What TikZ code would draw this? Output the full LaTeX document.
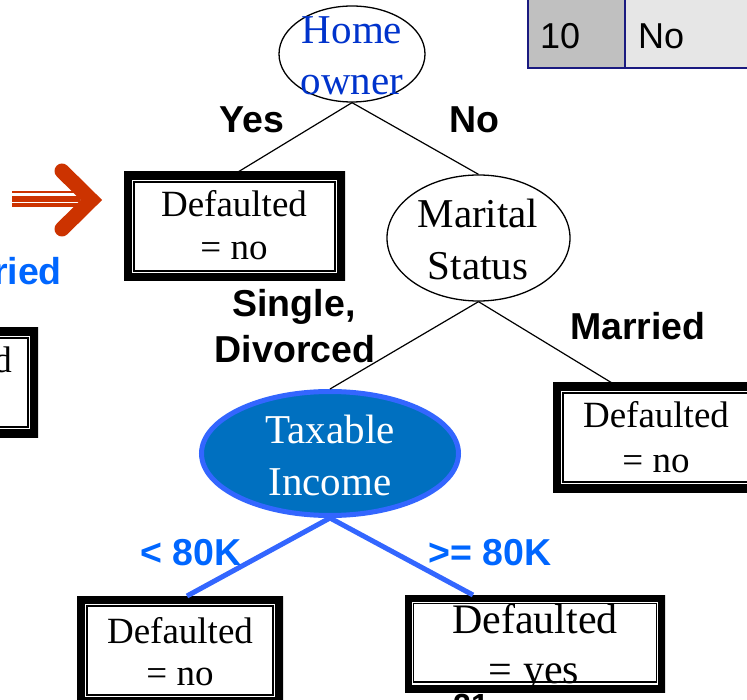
\documentclass[tikz,border=0pt]{standalone}
\usepackage{fontspec}
\setmainfont{Liberation Serif}
\newfontfamily\arialf{Liberation Sans}
\usetikzlibrary{shapes.geometric}

\definecolor{arroworange}{RGB}{204,51,0}
\definecolor{labelblue}{RGB}{0,102,255}
\definecolor{linkblue}{RGB}{51,102,255}
\definecolor{taxfill}{RGB}{0,112,192}
\definecolor{homeblue}{RGB}{0,51,204}
\definecolor{tablenavy}{RGB}{26,26,128}
\definecolor{cellgray}{RGB}{192,192,192}
\definecolor{celllight}{RGB}{230,230,230}

\newcommand\leaffont{\fontsize{37pt}{44pt}\selectfont}
\newcommand\bigleaffont{\fontsize{42pt}{50pt}\selectfont}
\newcommand\splitfont{\fontsize{41pt}{52pt}\selectfont}
\newcommand\edgefont{\arialf\bfseries\fontsize{37.5pt}{44pt}\selectfont}
\newcommand\cellfont{\arialf\fontsize{36pt}{42pt}\selectfont}

\tikzset{
  leafbox/.style={rectangle, inner sep=0pt, outer sep=0pt, fill=white,
    minimum width=221, minimum height=109,
    path picture={
      \draw[line width=16pt]
        (path picture bounding box.south west) rectangle
        (path picture bounding box.north east);
      \draw[line width=1.4pt]
        ([shift={(10pt,10pt)}]path picture bounding box.south west) rectangle
        ([shift={(-10pt,-10pt)}]path picture bounding box.north east);
    }},
  splitnode/.style={ellipse, draw, line width=1.3pt, inner sep=0pt, fill=white},
  txt/.style={inner sep=0pt, anchor=base},
  leaftext/.style={txt, font=\leaffont},
  splittext/.style={txt, font=\splitfont},
  edgelabel/.style={txt, font=\edgefont},
  tree/.style={line width=1.2pt},
  branch/.style={line width=5pt, linkblue},
}

\begin{document}
\begin{tikzpicture}[x=1pt,y=-1pt]
\useasboundingbox (0,0) rectangle (747,700);
\clip (0,0) rectangle (747,700);

% table row in the corner
\fill[cellgray] (528,-5) rectangle (625,68);
\fill[celllight] (625,-5) rectangle (752,68);
\draw[tablenavy, line width=1.5pt] (528,-5) -- (528,68) (625,-5) -- (625,68) (527,68) -- (752,68);
\node[txt, anchor=base west, font=\cellfont] (tid) at (540,49) {10};
\node[txt, anchor=base west, font=\cellfont] (tval) at (638,49) {No};

% orange pointer arrow
\fill[arroworange] (12,190.7) rectangle (80,193.3);
\fill[arroworange] (12,196) rectangle (80,201.7);
\fill[arroworange] (12,203.3) rectangle (80,206.7);
\draw[arroworange, line width=15pt, line cap=round, line join=miter] (62,171) -- (91.4,200) -- (62,229);

% partially visible label and leaf on the left
\node[edgelabel, anchor=base east, text=labelblue] (lmar) at (62,285) {Married};
\node[leafbox] (leafL) at (-72.5,382.5) {};
\node[leaftext, anchor=base east] (leafLa) at (12,373) {Defaulted};

% split nodes
\node[splitnode, minimum width=146, minimum height=96] (home) at (352,54) {};
\node[splitnode, minimum width=183, minimum height=126] (marital) at (478.5,238) {};
\node[ellipse, draw=linkblue, fill=taxfill, line width=5pt, inner sep=0pt,
      minimum width=257, minimum height=124] (taxable) at (330,453.5) {};

% leaves
\node[leafbox] (leafA) at (234.5,226.5) {};
\node[leafbox] (leafB) at (663.5,437.5) {};
\node[leafbox, minimum width=206] (leafC) at (180,650.5) {};
\node[txt, font=\arialf\bfseries\fontsize{32pt}{38pt}\selectfont] (pagenum) at (471,716) {21};
\node[leafbox, minimum width=260, minimum height=97,
  path picture={
    \draw[line width=14pt]
      (path picture bounding box.south west) rectangle
      (path picture bounding box.north east);
    \draw[line width=1.4pt]
      ([shift={(8.5pt,10pt)}]path picture bounding box.south west) rectangle
      ([shift={(-8.5pt,-8.5pt)}]path picture bounding box.north east);
  }] (leafD) at (535,643.5) {};

% connectors
\draw[tree] (home.south) -- ([xshift=114]leafA.north west);
\draw[tree] (home.south) -- (marital.north);
\draw[tree] (marital.south) -- (taxable.north);
\draw[tree] (marital.south) -- ([xshift=59]leafB.north west);
\draw[branch] (taxable.south) -- ([xshift=110]leafC.north west);
\draw[branch] (taxable.south) -- ([xshift=68]leafD.north west);

% node texts
\node[splittext, text=homeblue] (homeA) at (352,44) {Home};
\node[splittext, text=homeblue] (homeB) at (352,95) {owner};
\node[splittext] (marA) at (478,228) {Marital};
\node[splittext] (marB) at (478,280) {Status};
\node[splittext, text=white] (taxA) at (330,443) {Taxable};
\node[splittext, text=white] (taxB) at (330,495) {Income};

\node[leaftext] (leafAa) at (234,217) {Defaulted};
\node[leaftext] (leafAb) at (234,260) {= no};
\node[leaftext] (leafBa) at (656,428) {Defaulted};
\node[leaftext] (leafBb) at (656,472) {= no};
\node[leaftext] (leafCa) at (180,643) {Defaulted};
\node[leaftext] (leafCb) at (180,685) {= no};
\node[txt, font=\bigleaffont] (leafDa) at (535,633) {Defaulted};
\node[txt, font=\bigleaffont] (leafDb) at (534,683) {= yes};

% edge labels
\node[edgelabel] (lyes) at (252,133) {Yes};
\node[edgelabel] (lno) at (474,133) {No};
\node[edgelabel] (lsing) at (294,317) {Single,};
\node[edgelabel] (ldiv) at (295,363) {Divorced};
\node[edgelabel] (lmarried) at (638,340) {Married};
\node[edgelabel, text=labelblue] (llow) at (191,565) {< 80K};
\node[edgelabel, text=labelblue] (lhigh) at (490,565) {>= 80K};
\end{tikzpicture}
\end{document}
